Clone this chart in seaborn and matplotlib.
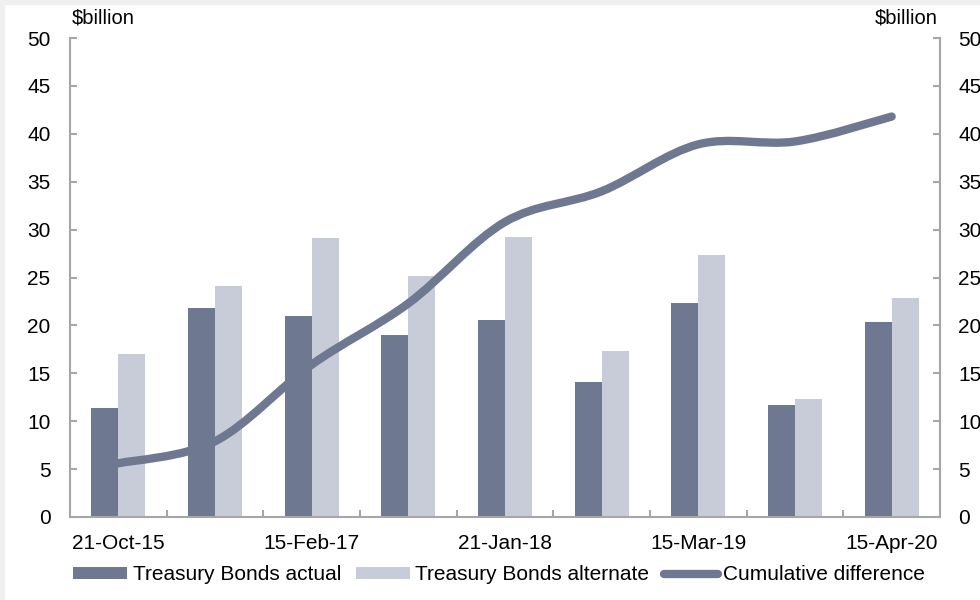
import numpy as np
import pandas as pd
import seaborn as sns
import matplotlib.pyplot as plt
from matplotlib.path import Path
from matplotlib.patches import PathPatch, Patch, Rectangle
from matplotlib.lines import Line2D

# Auction-by-auction issuance ($billion) and the running gap between them
auction = list(range(9))
tick_labels = ["21-Oct-15", "15-Feb-17", "21-Jan-18", "15-Mar-19", "15-Apr-20"]
actual = [11.4, 21.8, 21.0, 19.0, 20.6, 14.1, 22.3, 11.7, 20.4]
alternate = [17.0, 24.1, 29.1, 25.2, 29.2, 17.3, 27.3, 12.3, 22.9]
cumulative = [5.6, 7.9, 15.9, 22.3, 30.8, 34.0, 38.9, 39.2, 41.8]

series_names = ["Treasury Bonds actual", "Treasury Bonds alternate", "Cumulative difference"]
dark = "#6E7891"
light = "#C8CCD8"
spine_col = "#A6A6A6"

sns.set_style("white")
plt.rcParams["font.family"] = ["Liberation Sans", "DejaVu Sans"]
plt.rcParams["text.color"] = "black"
plt.rcParams["xtick.labelcolor"] = "black"
plt.rcParams["ytick.labelcolor"] = "black"

df = pd.DataFrame({
    "auction": auction * 2,
    "value": actual + alternate,
    "series": [series_names[0]] * len(actual) + [series_names[1]] * len(alternate),
})

fig = plt.figure(figsize=(9.8, 6.0), dpi=100)
fig.patches.append(Rectangle((0, 1 - 4 / 600), 1, 4 / 600, transform=fig.transFigure,
                             color="#F0F0F0", zorder=-1))
fig.patches.append(Rectangle((0, 0), 4 / 980, 1, transform=fig.transFigure,
                             color="#F0F0F0", zorder=-1))

ax = fig.add_axes([70 / 980, 83 / 600, 870 / 980, 479 / 600])
sns.barplot(data=df, x="auction", y="value", hue="series", palette=[dark, light],
            width=0.56, gap=0, saturation=1, legend=False, ax=ax, zorder=2,
            linewidth=0, edgecolor="none")

# Smoothed cumulative line (Catmull-Rom style Bezier through each point)
pts = np.column_stack([np.arange(len(cumulative), dtype=float), cumulative])
ext = np.vstack([pts[0], pts, pts[-1]])
verts = [pts[0]]
codes = [Path.MOVETO]
for i in range(len(pts) - 1):
    p0, p1, p2, p3 = ext[i], ext[i + 1], ext[i + 2], ext[i + 3]
    verts += [p1 + (p2 - p0) / 6, p2 - (p3 - p1) / 6, p2]
    codes += [Path.CURVE4] * 3
ax.add_patch(PathPatch(Path(verts, codes), fill=False, edgecolor=dark, lw=6,
                       capstyle="round", joinstyle="round", zorder=3))

ax.set_xlim(-0.5, 8.5)
ax.set_ylim(0, 50)
ax.set_xlabel("")
ax.set_ylabel("")
yt = np.arange(0, 51, 5)
ax.set_yticks(yt)
ax.set_yticklabels([str(v) for v in yt])
ax.set_xticks([0, 2, 4, 6, 8])
ax.set_xticklabels(tick_labels)
ax.set_xticks(np.arange(0.5, 8.0, 1.0), minor=True)

ax.tick_params(axis="x", which="major", length=0, pad=12, labelsize=15, labelcolor="black")
ax.tick_params(axis="x", which="minor", direction="in", length=5, width=1.5,
               color=spine_col, bottom=True)
ax.tick_params(axis="y", direction="in", length=5, width=1.5, color=spine_col,
               pad=14, labelsize=15, left=True, labelcolor="black")

for side in ["left", "right", "bottom"]:
    ax.spines[side].set_visible(True)
    ax.spines[side].set_color(spine_col)
    ax.spines[side].set_linewidth(1.5)
ax.spines["top"].set_visible(False)

ax2 = ax.twinx()
ax2.set_ylim(0, 50)
ax2.set_yticks(yt)
ax2.set_yticklabels([str(v) for v in yt])
ax2.tick_params(axis="y", direction="in", length=5, width=1.5, color=spine_col,
                pad=13, labelsize=15, right=True, labelcolor="black")
for s in ax2.spines.values():
    s.set_visible(False)

fig.text(72 / 980, 1 - 18 / 600, "$billion", ha="left", va="center", fontsize=14.5,
         color="black")
fig.text(938 / 980, 1 - 18 / 600, "$billion", ha="right", va="center", fontsize=14.5,
         color="black")

handles = [
    Patch(facecolor=dark, edgecolor="none"),
    Patch(facecolor=light, edgecolor="none"),
    Line2D([], [], color=dark, lw=6, solid_capstyle="round"),
]
leg = fig.legend(handles, series_names, loc="center",
                 bbox_to_anchor=(499 / 980, 1 - 575 / 600),
                 ncol=3, frameon=False, fontsize=15, handlelength=2.6, handleheight=0.45,
                 handletextpad=0.25, columnspacing=0.7, borderpad=0, borderaxespad=0)
for t in leg.get_texts():
    t.set_color("black")

fig.savefig("out.png", dpi=100)
